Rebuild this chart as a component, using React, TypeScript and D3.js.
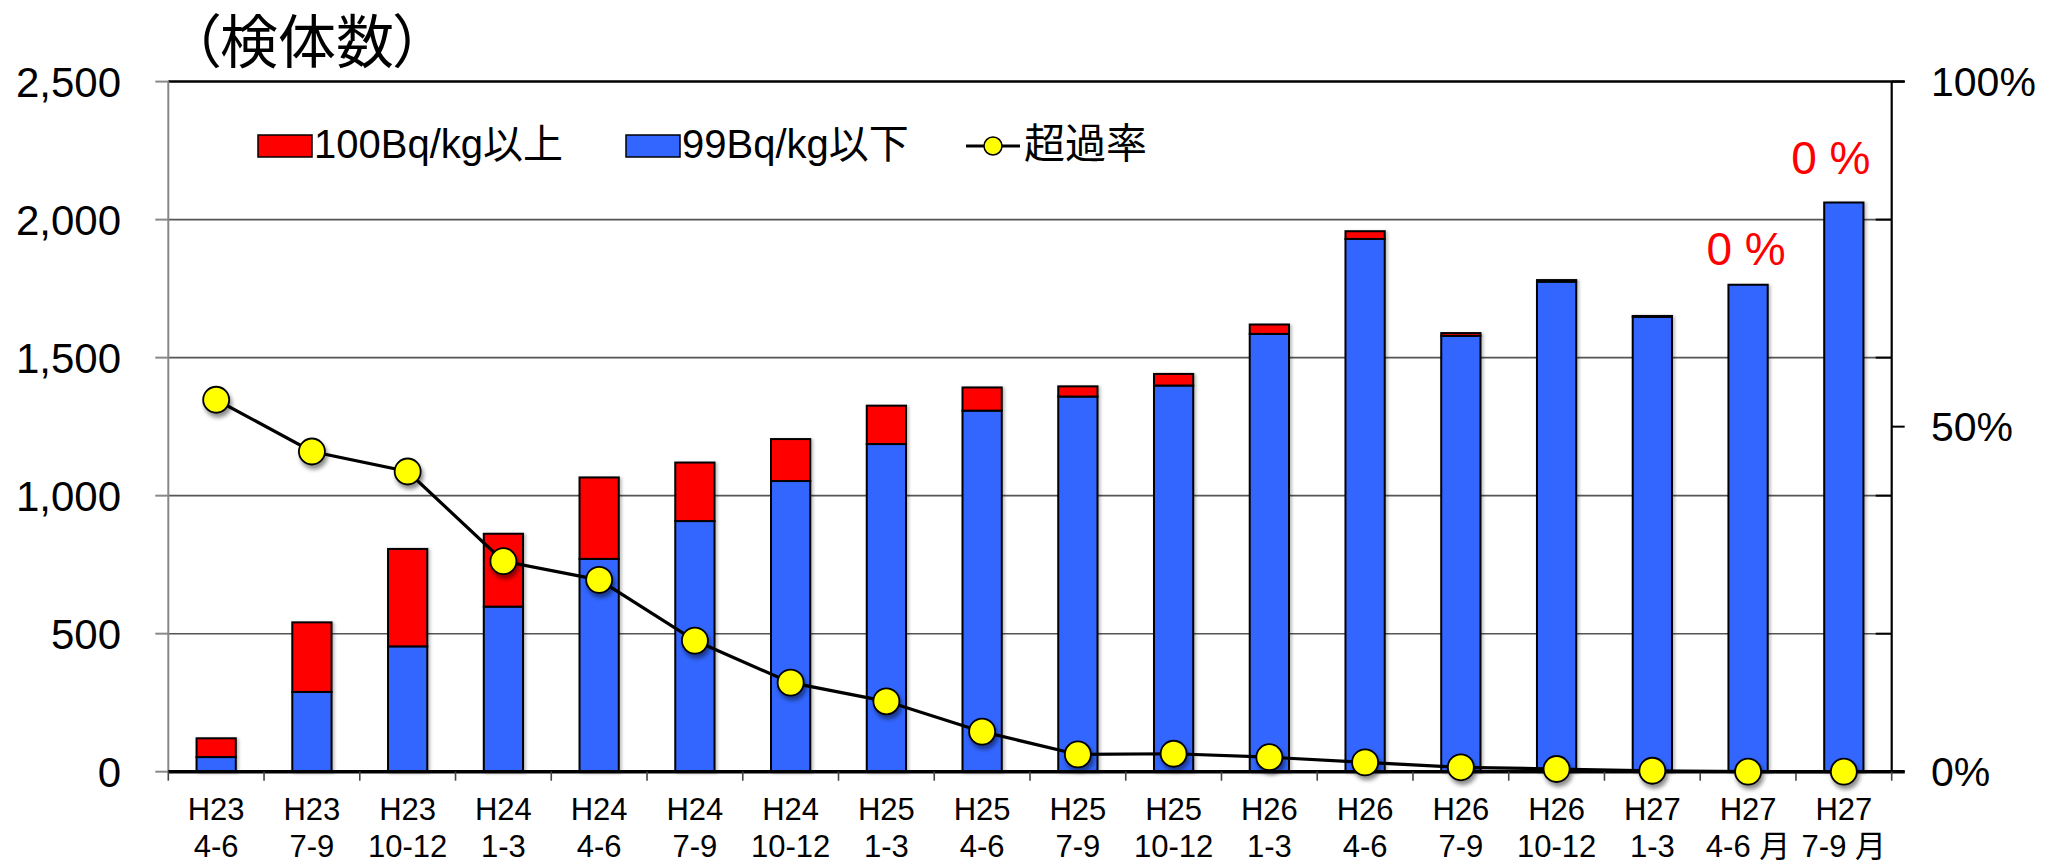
import React from "react";
import * as d3 from "d3";

const periodYear = ["H23","H23","H23","H24","H24","H24","H24","H25","H25","H25","H25","H26","H26","H26","H26","H27","H27","H27"];
const periodMonths = ["4-6","7-9","10-12","1-3","4-6","7-9","10-12","1-3","4-6","7-9","10-12","1-3","4-6","7-9","10-12","1-3","4-6 月","7-9 月"];
const below99 = [53, 289, 454, 598, 771, 908, 1053, 1187, 1308, 1359, 1399, 1586, 1930, 1579, 1775, 1648, 1764, 2062];
const over100 = [68, 252, 353, 264, 295, 212, 152, 139, 84, 37, 42, 34, 28, 10, 6, 3, 0, 0];
const exceedRate = [53.9, 46.4, 43.5, 30.5, 27.8, 19.0, 12.9, 10.2, 5.8, 2.5, 2.6, 2.1, 1.35, 0.64, 0.39, 0.14, 0, 0];
const leftTicks = [0, 500, 1000, 1500, 2000, 2500];
const rightTickLabels = [0, 50, 100];
const rightInnerTicks = [20, 40, 60, 80];
const annotations = [
  { index: 16, text: "0 %", dx: -2, dy: -20 },
  { index: 17, text: "0 %", dx: -13, dy: -29 },
];
const legendLabels = ["100Bq/kg以上", "99Bq/kg以下", "超過率"];
const titleText = "（検体数）";

const RED = "#ff0000";
const BLUE = "#3366ff";
const YELLOW = "#ffff00";
const LATIN = '"Liberation Sans", Arial, "Noto Sans CJK JP", sans-serif';
const CJK = '"Noto Sans CJK JP", "Liberation Sans", sans-serif';

export default function App() {
  const W = 2063, H = 864;
  const x0 = 168.3, x1 = 1891.7, yTop = 81.6, yBot = 771.7;
  const idx = d3.range(periodYear.length).map(String);
  const x = d3.scaleBand<string>().domain(idx).range([x0, x1]).paddingInner(0.59).paddingOuter(0.295);
  const slot = d3.scaleBand<string>().domain(idx).range([x0, x1]).padding(0);
  const y = d3.scaleLinear().domain([0, 2500]).range([yBot, yTop]);
  const yr = d3.scaleLinear().domain([0, 100]).range([yBot, yTop]);

  const stack = d3.stack<number>().keys(["blue", "red"]).value((i, k) => (k === "blue" ? below99[i] : over100[i]));
  const series = stack(d3.range(below99.length));
  const colors = [BLUE, RED];

  const line = d3.line<number>()
    .x((_, i) => (x(String(i)) as number) + x.bandwidth() / 2)
    .y((v) => yr(v));

  return (
    <svg width={W} height={H} style={{ position: "absolute", left: 0, top: 0, background: "#fff" }}>
      <defs>
        <filter id="msh" x="-50%" y="-50%" width="200%" height="200%">
          <feDropShadow dx="2" dy="4" stdDeviation="2.2" floodColor="#000" floodOpacity="0.45" />
        </filter>
        <filter id="bsh" x="-20%" y="-5%" width="140%" height="110%">
          <feDropShadow dx="2" dy="1" stdDeviation="1.5" floodColor="#000" floodOpacity="0.25" />
        </filter>
      </defs>

      {/* title */}
      <text x={191} y={63} fontFamily={CJK} fontSize={58} style={{ fontFeatureSettings: '"palt"' }} fill="#000">{titleText}</text>

      {/* gridlines */}
      {leftTicks.filter((t) => t > 0 && t < 2500).map((t) => (
        <line key={t} x1={x0} x2={x1} y1={y(t)} y2={y(t)} stroke="#555" strokeWidth={1.6} />
      ))}
      {/* top border */}
      <line x1={x0} x2={x1 + 13} y1={yTop} y2={yTop} stroke="#000" strokeWidth={2.5} />

      {/* left axis */}
      <line x1={x0} x2={x0} y1={yTop} y2={yBot} stroke="#888" strokeWidth={2} />
      {leftTicks.map((t) => (
        <g key={t}>
          <line x1={x0 - 13} x2={x0} y1={y(t)} y2={y(t)} stroke="#888" strokeWidth={2} />
          <text x={121} y={y(t)} dy="0.36em" textAnchor="end" fontFamily={LATIN} fontSize={42} fill="#000">
            {d3.format(",")(t)}
          </text>
        </g>
      ))}

      {/* right axis */}
      <line x1={x1} x2={x1} y1={yTop} y2={yBot} stroke="#000" strokeWidth={2.2} />
      {rightInnerTicks.map((t) => (
        <line key={t} x1={x1 - 16} x2={x1} y1={yr(t)} y2={yr(t)} stroke="#000" strokeWidth={2} />
      ))}
      {rightTickLabels.map((t) => (
        <g key={t}>
          <line x1={x1} x2={x1 + 13} y1={yr(t)} y2={yr(t)} stroke="#000" strokeWidth={2} />
          <text x={1931} y={yr(t)} dy="0.36em" fontFamily={LATIN} fontSize={41} fill="#000">{t}%</text>
        </g>
      ))}

      {/* bars */}
      <g filter="url(#bsh)">
        {series.map((s, si) =>
          s.map((d, i) => {
            const h = y(d[0]) - y(d[1]);
            if (h <= 0) return null;
            return (
              <rect key={si + "-" + i} x={x(String(i))} width={x.bandwidth()} y={y(d[1])} height={h}
                fill={colors[si]} stroke="#000" strokeWidth={2} />
            );
          })
        )}
      </g>

      {/* x axis */}
      <line x1={x0} x2={x1 + 13} y1={yBot} y2={yBot} stroke="#000" strokeWidth={3.5} />
      {d3.range(periodYear.length + 1).map((i) => {
        const xx = i < periodYear.length ? (slot(String(i)) as number) : x1;
        return <line key={i} x1={xx} x2={xx} y1={yBot} y2={yBot + 9} stroke="#444" strokeWidth={1.6} />;
      })}
      {periodYear.map((p, i) => {
        const cx = (slot(String(i)) as number) + slot.bandwidth() / 2;
        return (
          <g key={i}>
            <text x={cx} y={820} textAnchor="middle" fontFamily={LATIN} fontSize={31} fill="#000">{p}</text>
            <text x={cx} y={857} textAnchor="middle" fontFamily={LATIN} fontSize={31} fill="#000">{periodMonths[i]}</text>
          </g>
        );
      })}

      {/* rate line */}
      <path d={line(exceedRate) as string} fill="none" stroke="#000" strokeWidth={3.2} />
      <g filter="url(#msh)">
        {exceedRate.map((v, i) => (
          <circle key={i} cx={(x(String(i)) as number) + x.bandwidth() / 2} cy={yr(v)} r={13}
            fill={YELLOW} stroke="#000" strokeWidth={1.8} />
        ))}
      </g>

      {/* annotations */}
      {annotations.map((a, k) => (
        <text key={k} x={(x(String(a.index)) as number) + x.bandwidth() / 2 + a.dx}
          y={y(below99[a.index] + over100[a.index]) + a.dy}
          textAnchor="middle" fontFamily={LATIN} fontSize={46} fill={RED}>{a.text}</text>
      ))}

      {/* legend */}
      <g>
        <rect x={258} y={135} width={54} height={22} fill={RED} stroke="#000" strokeWidth={1.5} />
        <text x={314} y={158} fontFamily={LATIN} fontSize={40} fill="#000">{legendLabels[0]}</text>
        <rect x={626} y={135} width={54} height={22} fill={BLUE} stroke="#000" strokeWidth={1.5} />
        <text x={682} y={158} fontFamily={LATIN} fontSize={40} fill="#000">{legendLabels[1]}</text>
        <line x1={966} x2={1020} y1={146} y2={146} stroke="#000" strokeWidth={3} />
        <circle cx={993} cy={146} r={9} fill={YELLOW} stroke="#000" strokeWidth={1.5} />
        <text x={1024} y={158} fontFamily={CJK} fontSize={41} fill="#000">{legendLabels[2]}</text>
      </g>
    </svg>
  );
}
